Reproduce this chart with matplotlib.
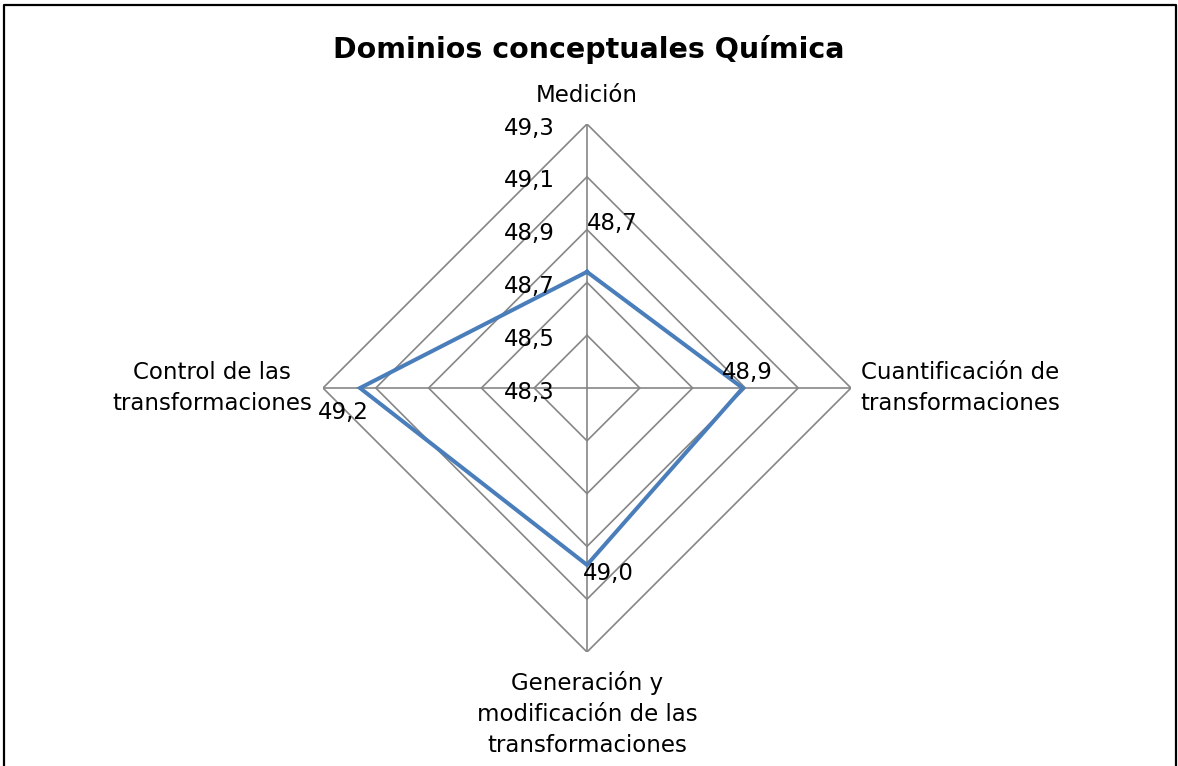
import numpy as np
import matplotlib.pyplot as plt
from matplotlib.lines import Line2D

categories = ['Medición', 'Cuantificación de\ntransformaciones',
              'Generación y\nmodificación de las\ntransformaciones',
              'Control de las\ntransformaciones']
values = [48.74, 48.89, 48.97, 49.16]
value_labels = ['48,7', '48,9', '49,0', '49,2']
rings = [48.3, 48.5, 48.7, 48.9, 49.1, 49.3]
ring_labels = ['48,3', '48,5', '48,7', '48,9', '49,1', '49,3']

grid_color = '#868686'
line_color = '#4a7ebb'
px = 72 / 100  # pixels -> points

fig = plt.figure(figsize=(11.78, 7.66), dpi=100)
ax = fig.add_axes([0.2742, 0.1488, 0.4482, 0.6893], projection='polar')
ax.set_theta_offset(np.pi / 2)
ax.set_theta_direction(-1)
ax.set_rlim(rings[0], rings[-1])
ax.grid(False)
ax.spines['polar'].set_visible(False)
ax.set_xticks([])
ax.set_yticks([])
ax.patch.set_alpha(0)

theta = np.arange(len(categories)) * 2 * np.pi / len(categories)
theta_c = np.append(theta, theta[0])

# grid polygons
for r in rings[1:]:
    ax.plot(theta_c, [r] * len(theta_c), color=grid_color, lw=1.2, zorder=1)
for t in theta:
    ax.plot([t, t], [rings[0], rings[-1]], color=grid_color, lw=1.2, zorder=1)

# data
ax.plot(theta_c, values + values[:1], color=line_color, lw=2.9, zorder=3,
        solid_joinstyle='miter')

fs = 16.5

# ring labels
for r, lab in zip(rings, ring_labels):
    ax.annotate(lab, xy=(0, r), xytext=(-32 * px, -4 * px), textcoords='offset points',
                ha='right', va='center', fontsize=fs)

# value labels
offsets = [(25, 48), (5, 16), (21, -9), (-17, -24)]
for t, v, lab, (dx, dy) in zip(theta, values, value_labels, offsets):
    ax.annotate(lab, xy=(t, v), xytext=(dx * px, dy * px), textcoords='offset points',
                ha='center', va='center', fontsize=fs, zorder=4)

# category labels
cat_pos = [((0, 17), 'center', 'bottom'), ((9, 0), 'left', 'center'),
           ((0, -19), 'center', 'top'), ((-11, 0), 'right', 'center')]
for t, lab, ((dx, dy), ha, va) in zip(theta, categories, cat_pos):
    ax.annotate(lab, xy=(t, rings[-1]), xytext=(dx * px, dy * px), textcoords='offset points',
                ha=ha, va=va, fontsize=fs, linespacing=1.45, multialignment='center')

fig.text(0.5, 0.935, 'Dominios conceptuales Química', ha='center', va='center',
         fontsize=20.5, fontweight='bold')

# outer border (bottom edge is cut off)
fig.add_artist(Line2D([0.003, 0.003, 0.998, 0.998], [0.0, 0.994, 0.994, 0.0],
                      color='black', lw=1.6, transform=fig.transFigure))

fig.savefig('out.png', dpi=100)
